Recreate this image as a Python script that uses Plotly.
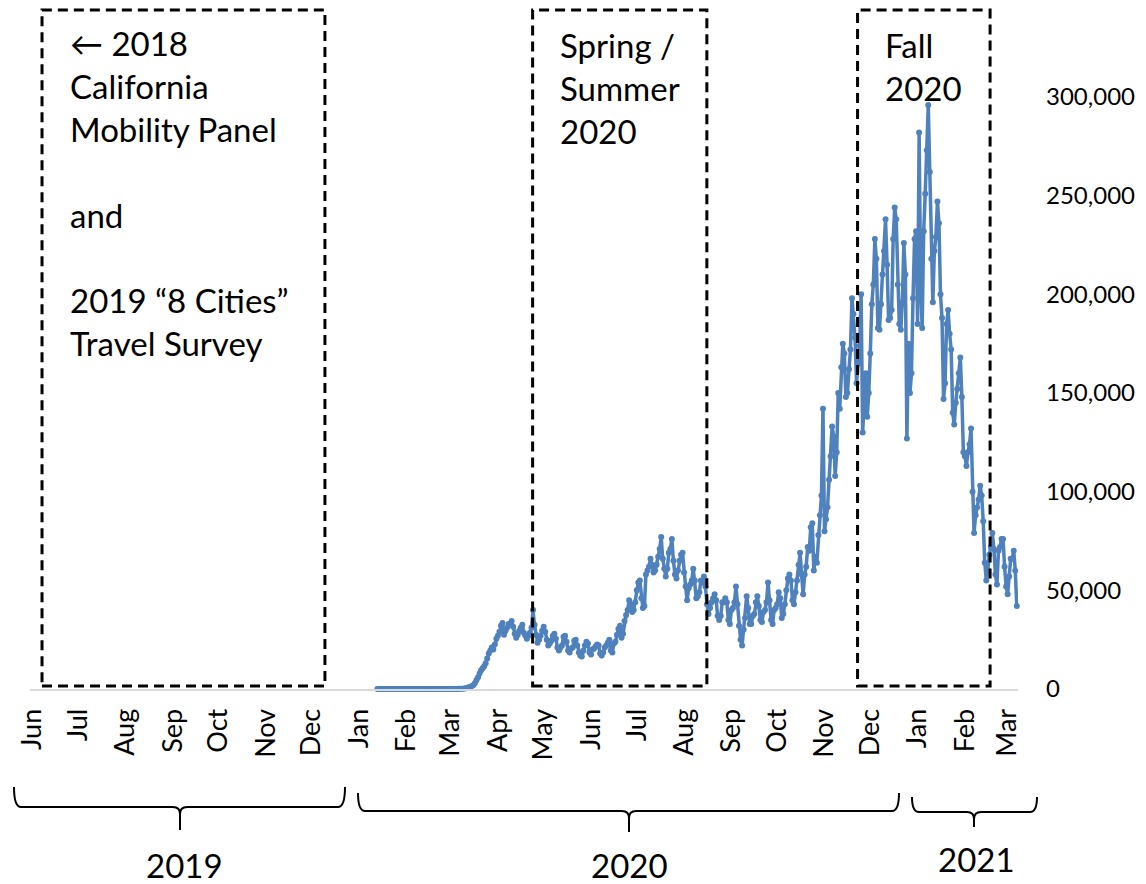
import pandas as pd
import plotly.graph_objects as go

# Daily new cases, one row per week (Mon..Sun), starting Mon 13 Jan 2020
start_date = "2020-01-13"
daily_cases = [
    0, 0, 0, 0, 0, 0, 0,
    0, 1, 0, 0, 1, 0, 1,
    0, 0, 0, 1, 1, 0, 2,
    0, 1, 0, 0, 0, 0, 0,
    0, 0, 1, 0, 0, 0, 0,
    0, 0, 0, 0, 1, 0, 0,
    0, 0, 1, 2, 4, 8, 12,
    20, 25, 45, 60, 90, 115, 150,
    190, 280, 420, 600, 850, 1100, 1500,
    2000, 3000, 4500, 6000, 7800, 9500, 10500,
    11500, 13000, 15500, 18000, 19500, 21000, 20000,
    22500, 25500, 27000, 29000, 32000, 33500, 27500,
    29500, 31000, 33000, 32500, 34500, 31500, 28000,
    26000, 27500, 29500, 31000, 32500, 28500, 27000,
    25500, 27000, 28500, 31000, 40000, 32500, 27500,
    23500, 25000, 27000, 29500, 31500, 29000, 25000,
    22000, 23000, 24500, 27000, 28000, 25500, 21000,
    19500, 21000, 22000, 26500, 27000, 24000, 19500,
    18500, 20500, 21000, 24500, 25000, 22000, 18500,
    17000, 16500, 19500, 22000, 24000, 23000, 18500,
    17500, 20000, 20500, 21500, 22500, 22000, 18000,
    17000, 18500, 21000, 22000, 23500, 25000, 19500,
    18500, 23000, 24000, 27500, 30500, 32000, 26000,
    28000, 34500, 37500, 40000, 45000, 43000, 39000,
    40000, 44000, 50000, 54000, 55000, 46000, 41000,
    42000, 58000, 60000, 62000, 66000, 63000, 59000,
    60000, 63000, 67000, 71000, 77000, 66000, 61000,
    57000, 61000, 69000, 71000, 76000, 65000, 58000,
    56000, 60000, 65000, 68000, 69000, 59000, 52000,
    45000, 51000, 53000, 55000, 61000, 55000, 46000,
    47000, 49000, 55000, 54000, 57000, 52000, 43000,
    38000, 41000, 44000, 46000, 48000, 45000, 37000,
    35000, 37000, 44000, 44000, 46000, 44000, 35000,
    33000, 40000, 41000, 44000, 52000, 43000, 32000,
    25000, 22000, 30000, 36000, 47000, 41000, 33000,
    33000, 37000, 38000, 44000, 47000, 42000, 35000,
    34000, 39000, 40000, 44000, 54000, 45000, 35000,
    33000, 40000, 41000, 43000, 49000, 46000, 36000,
    38000, 43000, 50000, 56000, 58000, 55000, 45000,
    43000, 49000, 55000, 63000, 69000, 58000, 48000,
    58000, 62000, 72000, 70000, 82000, 84000, 60000,
    67000, 64000, 78000, 88000, 98000, 142000, 80000,
    86000, 92000, 106000, 118000, 133000, 128000, 108000,
    120000, 150000, 142000, 163000, 175000, 170000, 148000,
    150000, 162000, 172000, 198000, 190000, 178000, 155000,
    165000, 174000, 200000, 130000, 145000, 160000, 138000,
    150000, 170000, 195000, 205000, 228000, 218000, 183000,
    182000, 195000, 210000, 222000, 238000, 215000, 187000,
    188000, 192000, 228000, 244000, 238000, 205000, 185000,
    182000, 196000, 226000, 210000, 127000, 175000, 150000,
    160000, 198000, 228000, 232000, 185000, 282000, 205000,
    183000, 232000, 251000, 273000, 296000, 262000, 218000,
    196000, 222000, 229000, 247000, 236000, 200000, 188000,
    147000, 155000, 185000, 192000, 180000, 172000, 140000,
    134000, 145000, 152000, 160000, 168000, 148000, 120000,
    118000, 113000, 120000, 124000, 132000, 100000, 79000,
    88000, 92000, 96000, 103000, 98000, 85000, 64000,
    55000, 60000, 68000, 72000, 79000, 71000, 58000,
    53000, 70000, 72000, 76000, 76000, 62000, 52000,
    48000, 57000, 66000, 66000, 70000, 60000, 42000,
]
dates = pd.date_range(start_date, periods=len(daily_cases), freq="D")

y_ticks = [0, 50000, 100000, 150000, 200000, 250000, 300000]
y_tick_labels = ["0", "50,000", "100,000", "150,000", "200,000", "250,000", "300,000"]

# survey windows (dashed boxes)
box_starts = ["2019-06-07 07:00", "2020-04-23 18:00", "2020-11-22 16:00"]
box_ends = ["2019-12-09 16:00", "2020-08-15 22:00", "2021-02-17 12:00"]
box_labels = [
    "\u2190 2018<br>California<br>Mobility Panel<br> <br>and<br> <br>2019 \u201c8 Cities\u201d<br>Travel Survey",
    "Spring /<br>Summer<br>2020",
    "Fall<br>2020",
]
year_labels = ["2019", "2020", "2021"]

FONT = "Lato"
BLUE = "#4F81BD"

# page body has an 8px margin, so the figure starts 8px in from the window
OFF = 8
FIG_W, FIG_H = 1146 - OFF, 884 - OFF
# plot box in window pixels: left 30, right 1018, top 8, bottom 689
L, R, T, B = 30, 1018, 8, 689
W, H = R - L, B - T


def fx(px):
    return (px - L) / W


def fy(py):
    return (B - py) / H


def brace(xl, xm, xr, yend, yline, ytip, r=7):
    return (
        f"M {fx(xl)},{fy(yend)} Q {fx(xl)},{fy(yline)} {fx(xl + r)},{fy(yline)} "
        f"L {fx(xm - r)},{fy(yline)} Q {fx(xm)},{fy(yline)} {fx(xm)},{fy(yline + r)} "
        f"L {fx(xm)},{fy(ytip)} M {fx(xm)},{fy(yline + r)} "
        f"Q {fx(xm)},{fy(yline)} {fx(xm + r)},{fy(yline)} "
        f"L {fx(xr - r)},{fy(yline)} Q {fx(xr)},{fy(yline)} {fx(xr)},{fy(yend)}"
    )


# 300,000 sits at window y = 97
y_max = 300000 * H / (B - 97)

fig = go.Figure()
fig.add_trace(go.Scatter(
    x=dates, y=daily_cases,
    mode="lines+markers",
    line=dict(color=BLUE, width=3.5),
    marker=dict(color=BLUE, size=6),
    cliponaxis=False,
    showlegend=False,
    hoverinfo="skip",
))

shapes = []
for x0, x1 in zip(box_starts, box_ends):
    shapes.append(dict(
        type="rect", xref="x", yref="paper",
        x0=x0, x1=x1, y0=fy(686), y1=fy(10),
        line=dict(color="black", width=3, dash="10px,6px"),
        layer="above",
    ))

brace_px = [(14, 180, 345, 787, 807, 830), (358, 629, 899, 793, 811, 832), (912, 974, 1037, 797, 812, 827)]
for b in brace_px:
    shapes.append(dict(
        type="path", xref="paper", yref="paper",
        path=brace(*b),
        line=dict(color="black", width=2),
    ))

annotations = []
label_px = [(68, 21), (558, 23), (883, 23)]
for text, (px, py) in zip(box_labels, label_px):
    annotations.append(dict(
        text=text, xref="paper", yref="paper",
        x=fx(px), y=fy(py), xanchor="left", yanchor="top",
        align="left", showarrow=False,
        font=dict(family=FONT, size=33, color="black"),
    ))

year_px = [(184, 865), (629, 865), (976, 859)]
for text, (px, py) in zip(year_labels, year_px):
    annotations.append(dict(
        text=text, xref="paper", yref="paper",
        x=fx(px), y=fy(py), xanchor="center", yanchor="middle",
        showarrow=False,
        font=dict(family=FONT, size=33, color="black"),
    ))

fig.update_layout(
    width=FIG_W, height=FIG_H,
    margin=dict(l=L - OFF, r=FIG_W - (R - OFF), t=T - OFF, b=FIG_H - (B - OFF)),
    paper_bgcolor="white", plot_bgcolor="white",
    font=dict(family=FONT, color="black"),
    shapes=shapes, annotations=annotations,
    xaxis=dict(
        type="date",
        range=["2019-05-30 10:00", "2021-03-07 19:00"],
        tick0="2019-06-01", dtick="M1", tickformat="%b",
        tickangle=-90, ticks="",
        tickfont=dict(family=FONT, size=27, color="black"),
        ticklabelstandoff=7,
        showgrid=False, zeroline=False,
        showline=True, linecolor="#d9d9d9", linewidth=2,
    ),
    yaxis=dict(
        side="right", range=[0, y_max],
        tickvals=y_ticks, ticktext=y_tick_labels,
        tickfont=dict(family=FONT, size=24, color="black"),
        ticks="", ticklabelstandoff=27,
        showgrid=False, zeroline=False, showline=False,
    ),
)

fig.write_html("out.html")
